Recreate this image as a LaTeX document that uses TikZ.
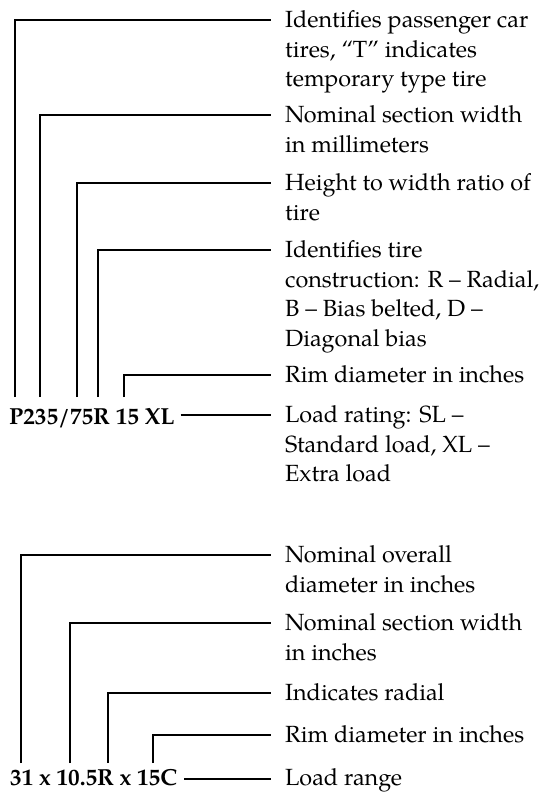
\documentclass[tikz,border=0pt]{standalone}
\usepackage{fontspec}
\setmainfont{TeX Gyre Pagella}
\usetikzlibrary{calc}
\begin{document}
\begin{tikzpicture}[x=1pt,y=-1pt,
  lead/.style={line width=2.3pt,line cap=butt,line join=miter},
  lab/.style={anchor=base west,inner sep=0pt,font=\fontsize{23.4}{29.5}\selectfont},
  code/.style={anchor=base west,inner sep=0pt,font=\fontsize{23.2}{29.5}\selectfont\bfseries}]
\useasboundingbox[fill=white] (0,0) rectangle (543,793);
\def\arraystretch{1}
\newcommand\ml[1]{\begin{tabular}[t]{@{}l@{}}#1\end{tabular}}
% ---------- top block ----------
\node[code] (c1) at (9,424) {P235/75R 15 XL};
\node[lab] (t1) at (285,27.5) {\ml{Identifies passenger car\\tires, “T” indicates\\temporary type tire}};
\node[lab] (t2) at (285,122.5) {\ml{Nominal section width\\in millimeters}};
\node[lab] (t3) at (285,190.5) {\ml{Height to width ratio of\\tire}};
\node[lab] (t4) at (285,257.5) {\ml{Identifies tire\\construction: R – Radial,\\B – Bias belted, D –\\Diagonal bias}};
\node[lab] (t5) at (285,382.5) {\ml{Rim diameter in inches}};
\node[lab] (t6) at (285,422.5) {\ml{Load rating: SL –\\Standard load, XL –\\Extra load}};
\coordinate (a1) at ($(c1.base west)+(6,-27)$);
\coordinate (a2) at ($(c1.base west)+(31,-27)$);
\coordinate (a3) at ($(c1.base west)+(68,-27)$);
\coordinate (a4) at ($(c1.base west)+(89,-27)$);
\coordinate (a5) at ($(c1.base west)+(115,-27)$);
\foreach \i in {1,...,5}{
  \draw[lead] (a\i) |- ($(t\i.base west)+(-14,-7.5)$);
}
\draw[lead] ($(c1.base east)+(6,-9)$) -- ($(t6.base west)+(-14,-7.5)$);
% ---------- bottom block ----------
\node[code] (c2) at (10,785) {31 x 10.5R x 15C};
\node[lab] (b1) at (285,562.5) {\ml{Nominal overall\\diameter in inches}};
\node[lab] (b2) at (285,630.5) {\ml{Nominal section width\\in inches}};
\node[lab] (b3) at (285,700.5) {\ml{Indicates radial}};
\node[lab] (b4) at (285,742.5) {\ml{Rim diameter in inches}};
\node[lab] (b5) at (285,785) {\ml{Load range}};
\coordinate (d1) at ($(c2.base west)+(11,-22)$);
\coordinate (d2) at ($(c2.base west)+(60,-22)$);
\coordinate (d3) at ($(c2.base west)+(98,-22)$);
\coordinate (d4) at ($(c2.base west)+(143,-22)$);
\foreach \i in {1,...,4}{
  \draw[lead] (d\i) |- ($(b\i.base west)+(-14,-7.5)$);
}
\draw[lead] ($(c2.base east)+(7,-6)$) -- ($(b5.base west)+(-14,-6)$);
\end{tikzpicture}
\end{document}
